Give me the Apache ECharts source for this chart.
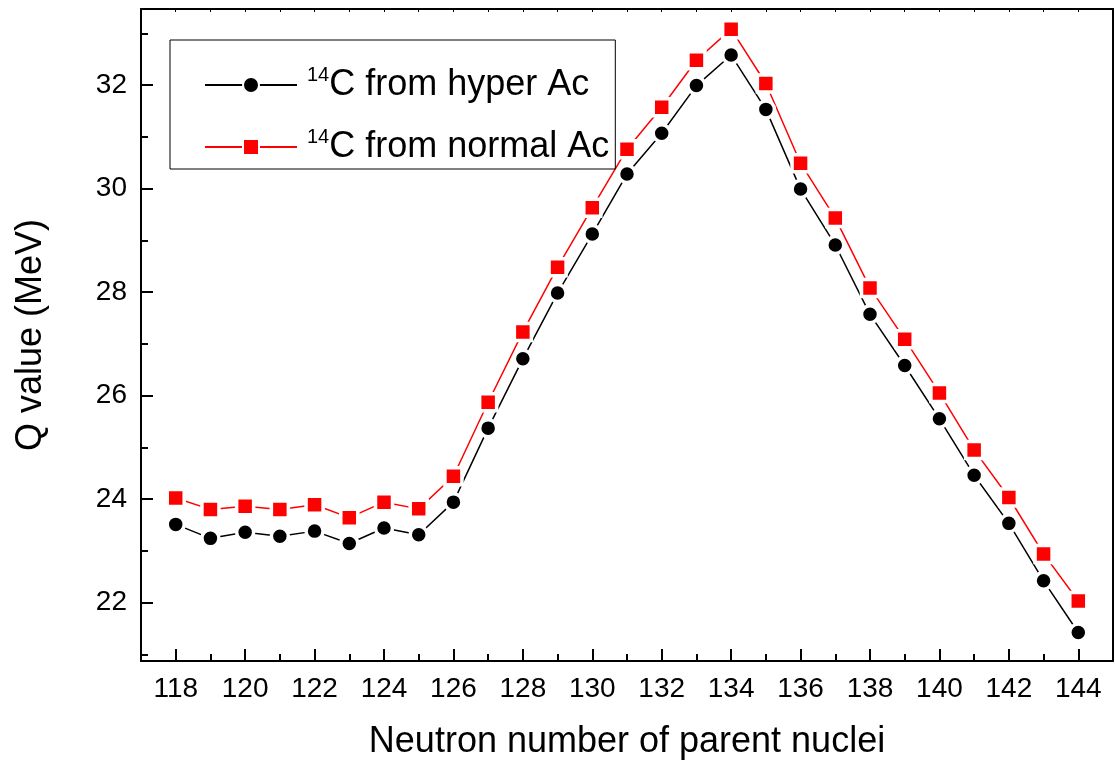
<!DOCTYPE html>
<html>
<head>
<meta charset="utf-8">
<script src="https://cdn.jsdelivr.net/npm/echarts@6/dist/echarts.min.js"></script>
<style>
  html, body { margin: 0; padding: 0; background: #fff; }
  #chart { width: 1115px; height: 765px; }
</style>
</head>
<body>
<div id="chart"></div>
<script>
const neutron = [118, 119, 120, 121, 122, 123, 124, 125, 126, 127, 128, 129, 130, 131,
  132, 133, 134, 135, 136, 137, 138, 139, 140, 141, 142, 143, 144]
const hyperAc = [23.51, 23.24, 23.36, 23.28, 23.38, 23.14, 23.44, 23.31, 23.94, 25.37,
  26.71, 27.98, 29.12, 30.28, 31.07, 31.99, 32.58, 31.53, 29.99, 28.91, 27.57, 26.58,
  25.55, 24.46, 23.53, 22.42, 21.42]
const normalAc = [24.02, 23.80, 23.86, 23.80, 23.89, 23.64, 23.94, 23.81, 24.44, 25.87,
  27.23, 28.48, 29.63, 30.76, 31.57, 32.48, 33.08, 32.03, 30.49, 29.43, 28.08, 27.09,
  26.05, 24.95, 24.03, 22.94, 22.03]
const xMajor = [118, 120, 122, 124, 126, 128, 130, 132, 134, 136, 138, 140, 142, 144]
const xMinor = [119, 121, 123, 125, 127, 129, 131, 133, 135, 137, 139, 141, 143]
const yMajor = [22, 24, 26, 28, 30, 32]
const yMinor = [21, 23, 25, 27, 29, 31, 33]

const FONT = "'Liberation Sans', Arial, sans-serif"
const xRange = { min: 117, max: 145 }
const yRange = { min: 20.87, max: 33.47 }

const chart = echarts.init(document.getElementById('chart'))

const line2 = { show: true, lineStyle: { color: '#000', width: 2 } }
const noLine = { show: false }

chart.setOption({
  animation: false,
  backgroundColor: '#fff',
  textStyle: { fontFamily: FONT },
  grid: { left: 141, right: 2, top: 9, bottom: 103 },
  legend: {
    orient: 'vertical',
    left: 170,
    top: 40,
    padding: [25, 6, 4, 34],
    borderColor: '#000',
    borderWidth: 1,
    itemWidth: 92,
    itemHeight: 20,
    itemGap: 24,
    data: ['hyper', 'normal'],
    formatter: (name) => name === 'hyper'
      ? '{s|14}{c|C from hyper Ac}'
      : '{s|14}{c|C from normal Ac}',
    textStyle: {
      rich: {
        s: { fontSize: 20, fontFamily: FONT, color: '#000', verticalAlign: 'top', lineHeight: 40, padding: [0, 0, 0, 5] },
        c: { fontSize: 36, fontFamily: FONT, color: '#000', lineHeight: 40 },
      },
    },
  },
  xAxis: [
    {
      type: 'value', position: 'bottom', ...xRange, interval: 1,
      axisLine: line2,
      splitLine: noLine,
      axisTick: { inside: true, length: 12, customValues: xMajor, lineStyle: { color: '#000', width: 2 } },
      axisLabel: { customValues: xMajor, fontSize: 28, color: '#000', margin: 14, fontFamily: FONT },
      name: 'Neutron number of parent nuclei',
      nameLocation: 'middle',
      nameGap: 63,
      nameTextStyle: { fontSize: 36, color: '#000', fontFamily: FONT },
    },
    {
      type: 'value', position: 'bottom', ...xRange, interval: 1,
      axisLine: noLine, splitLine: noLine, axisLabel: noLine,
      axisTick: { inside: true, length: 7, customValues: xMinor, lineStyle: { color: '#000', width: 2 } },
    },
    {
      type: 'value', position: 'top', ...xRange, interval: 1,
      axisLine: line2, splitLine: noLine, axisLabel: noLine,
      axisTick: { inside: true, length: 3, lineStyle: { color: '#000', width: 1 } },
    },
  ],
  yAxis: [
    {
      type: 'value', position: 'left', ...yRange,
      axisLine: line2,
      splitLine: noLine,
      axisTick: { inside: true, length: 12, customValues: yMajor, lineStyle: { color: '#000', width: 2 } },
      axisLabel: { customValues: yMajor, fontSize: 28, color: '#000', margin: 14, fontFamily: FONT },
      name: 'Q value (MeV)',
      nameLocation: 'middle',
      nameGap: 92,
      nameTextStyle: { fontSize: 36, color: '#000', fontFamily: FONT },
    },
    {
      type: 'value', position: 'left', ...yRange,
      axisLine: noLine, splitLine: noLine, axisLabel: noLine,
      axisTick: { inside: true, length: 7, customValues: yMinor, lineStyle: { color: '#000', width: 2 } },
    },
    {
      type: 'value', position: 'right', ...yRange,
      axisLine: line2, splitLine: noLine, axisLabel: noLine, axisTick: noLine,
    },
  ],
  series: [
    {
      name: 'hyper',
      type: 'line',
      xAxisIndex: 0,
      yAxisIndex: 0,
      data: neutron.map((n, i) => [n, hyperAc[i]]),
      symbol: 'circle',
      symbolSize: 17,
      lineStyle: { color: '#000', width: 1.5 },
      itemStyle: { color: '#000', borderColor: '#fff', borderWidth: 3.5 },
    },
    {
      name: 'normal',
      type: 'line',
      xAxisIndex: 0,
      yAxisIndex: 0,
      data: neutron.map((n, i) => [n, normalAc[i]]),
      symbol: 'rect',
      symbolSize: 17,
      lineStyle: { color: '#ff0000', width: 1.5 },
      itemStyle: { color: '#ff0000', borderColor: '#fff', borderWidth: 3.5 },
    },
  ],
})
</script>
</body>
</html>
